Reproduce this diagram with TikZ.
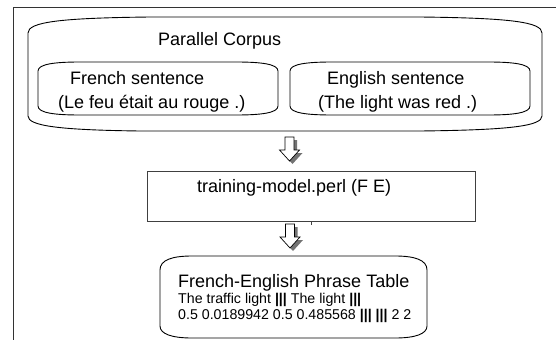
\documentclass[tikz,border=0pt]{standalone}
\usepackage{fontspec}
\setmainfont{Liberation Sans}
\begin{document}
\begin{tikzpicture}[x=1pt,y=-1pt,
  txt/.style={anchor=base west, inner sep=0pt, font=\fontsize{18}{21}\selectfont},
  smalltxt/.style={anchor=base west, inner sep=0pt, font=\fontsize{14.2}{16}\selectfont},
  outline/.style={draw=black, line width=0.9pt},
  framestyle/.style={draw=black!80, line width=0.9pt},
  blockarrow/.style={draw=black, fill=white, line width=0.7pt},
  arrowshadow/.style={fill=black!55, draw=none}]
\useasboundingbox (0,0) rectangle (556,340);
% outer frame (open at right and bottom)
\draw[framestyle] (556,7) -- (13,7) -- (13,340);
% Parallel corpus container
\draw[outline] (28,33) .. controls (28,22) and (60,18) .. (150,17) -- (420,17)
  .. controls (510,18) and (542,22) .. (542,33) -- (542,116)
  .. controls (542,126) and (510,130) .. (420,131) -- (140,131)
  .. controls (60,130) and (28,126) .. (28,116) -- cycle;
\node[txt] (pc) at (158,45) {Parallel Corpus};
% French sentence box
\draw[outline] (38,71) .. controls (38,64) and (55,62) .. (80,62) -- (236,62)
  .. controls (261,62) and (278,64) .. (278,71) -- (278,106)
  .. controls (278,113) and (261,115) .. (236,115) -- (80,115)
  .. controls (55,115) and (38,113) .. (38,106) -- cycle;
\node[txt] (fr1) at (70,84) {French sentence};
\node[txt] (fr2) at (58,108) {(Le feu était au rouge .)};
% English sentence box
\draw[outline] (290,71) .. controls (290,64) and (307,62) .. (332,62) -- (488,62)
  .. controls (513,62) and (530,64) .. (530,71) -- (530,106)
  .. controls (530,113) and (513,115) .. (488,115) -- (332,115)
  .. controls (307,115) and (290,113) .. (290,106) -- cycle;
\node[txt] (en1) at (327,84) {English sentence};
\node[txt] (en2) at (318,108) {(The light was red .)};
% block arrows
\foreach \ax/\ay in {289.5/137, 290/224}{
  \fill[arrowshadow, shift={(\ax+3,\ay+3)}] (-4.5,0) -- (4.5,0) -- (4.5,13) -- (10,13) -- (0,24) -- (-10,13) -- (-4.5,13) -- cycle;
  \draw[blockarrow, shift={(\ax,\ay)}] (-4.5,0) -- (4.5,0) -- (4.5,13) -- (10,13) -- (0,24) -- (-10,13) -- (-4.5,13) -- cycle;
}
% training box
\node[draw=black!75, line width=0.9pt, anchor=north west, minimum width=328pt, minimum height=50pt, inner sep=0pt] (train) at (147,171) {};
\node[txt] (trtext) at (197,192) {training-model.perl (F E)};
\draw[draw=black!75, line width=0.7pt] (train.south) -- ++(0,3);
% phrase table box
\draw[outline] (160,270) .. controls (160,260) and (172,256) .. (192,256) -- (395,256)
  .. controls (415,256) and (427,260) .. (427,270) -- (427,326)
  .. controls (427,334) and (415,338) .. (395,338) -- (192,338)
  .. controls (172,338) and (160,334) .. (160,326) -- cycle;
\node[txt] (pt1) at (178,287) {French-English Phrase Table};
\node[smalltxt] (pt2) at (178,303) {The traffic light \textbf{|||} The light \textbf{|||}};
\node[smalltxt] (pt3) at (178,319) {0.5 0.0189942 0.5 0.485568 \textbf{|||} \textbf{|||} 2 2};
\end{tikzpicture}
\end{document}
